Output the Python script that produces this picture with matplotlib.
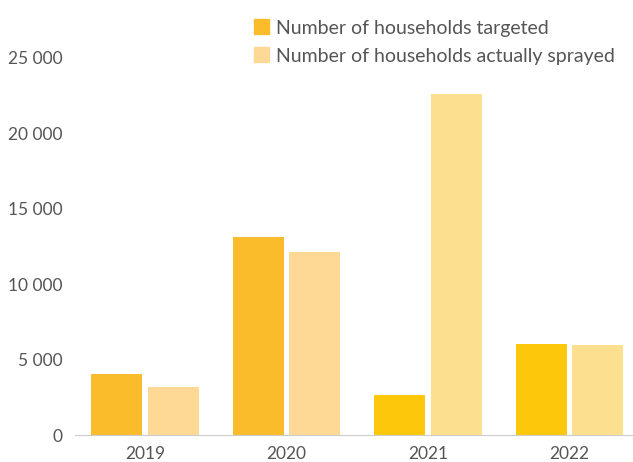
import numpy as np
import matplotlib as mpl
import matplotlib.pyplot as plt
from matplotlib.patches import Patch

mpl.use("Agg")

plt.rcParams.update({"font.family": ["Lato", "DejaVu Sans"]})
plt.rcParams.update({"font.size": 12})

years = ["2019", "2020", "2021", "2022"]
targeted = [4050, 13100, 2650, 6050]
sprayed = [3200, 12150, 22600, 6000]

# the last two years use a slightly more saturated yellow
targeted_colors = ["#FBBC2B", "#FBBC2B", "#FDC70C", "#FDC70C"]
sprayed_colors = ["#FDD995", "#FDD995", "#FDE08F", "#FDE08F"]

fig = plt.figure(figsize=(6.33, 4.62), dpi=100)
ax = fig.add_axes([75 / 633, 27 / 462, 558 / 633, 377 / 462])

x = np.arange(len(years))
width = 0.36
gap = 0.02
ax.bar(x - width / 2 - gap, targeted, width, color=targeted_colors)
ax.bar(x + width / 2 + gap, sprayed, width, color=sprayed_colors)

ax.set_xlim(-0.495, 3.45)
ax.set_ylim(0, 25000)
ax.set_xticks(x, labels=years)
ax.set_yticks(np.arange(0, 25001, 5000))
ax.yaxis.set_major_formatter(
    mpl.ticker.FuncFormatter(lambda v, p: f"{int(v):,}".replace(",", " "))
)
for side in ["top", "right", "left"]:
    ax.spines[side].set_visible(False)
ax.spines["bottom"].set_color("#cccccc")
ax.tick_params(axis="both", length=0, colors="#555555", labelsize=12.5)
ax.tick_params(axis="y", pad=9)
ax.tick_params(axis="x", pad=8)

handles = [
    Patch(color="#FBBC2B", label="Number of households targeted"),
    Patch(color="#FDD995", label="Number of households actually sprayed"),
]
leg = fig.legend(
    handles=handles,
    loc="upper left",
    bbox_to_anchor=(236 / 633, 1 - 2 / 462),
    frameon=False,
    handlelength=0.8,
    handleheight=0.8,
    handletextpad=0.35,
    labelspacing=0.55,
    fontsize=14,
)
for t in leg.get_texts():
    t.set_color("#555555")

plt.savefig("out.png", dpi=100)
